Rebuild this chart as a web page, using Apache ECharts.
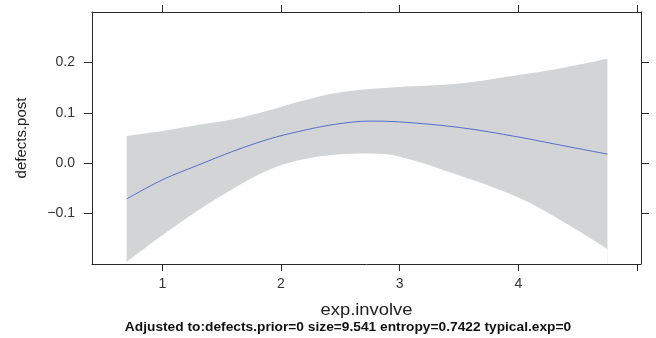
<!DOCTYPE html>
<html>
<head>
<meta charset="utf-8">
<script src="https://cdn.jsdelivr.net/npm/echarts@6/dist/echarts.min.js"></script>
<style>html,body{margin:0;padding:0;background:#fff}#c{width:656px;height:338px}</style>
</head>
<body>
<div id="c"></div>
<script>
const xValues = [0.70, 1.0, 1.3, 1.6, 1.9, 2.15, 2.45, 2.75, 3.0, 3.5, 4.0, 4.35, 4.75];
const fitValues = [-0.071, -0.033, -0.004, 0.024, 0.048, 0.063, 0.077, 0.0835, 0.082, 0.071, 0.052, 0.036, 0.018];
const upperValues = [0.054, 0.064, 0.076, 0.087, 0.105, 0.122, 0.139, 0.147, 0.151, 0.158, 0.175, 0.188, 0.207];
const lowerValues = [-0.196, -0.143, -0.094, -0.050, -0.013, 0.006, 0.017, 0.019, 0.013, -0.024, -0.068, -0.112, -0.170];
const xTicks = [1, 2, 3, 4, 5];
const xLabels = [1, 2, 3, 4];
const yTicks = [-0.1, 0.0, 0.1, 0.2];
const xTitle = 'exp.involve';
const yTitle = 'defects.post';
const subTitle = 'Adjusted to:defects.prior=0 size=9.541 entropy=0.7422 typical.exp=0';

const pair = ys => xValues.map((x, i) => [x, ys[i]]);
const font = '"Liberation Sans", Arial, Helvetica, sans-serif';
const lineCol = '#2a2a2a';

const chart = echarts.init(document.getElementById('c'), null, {renderer: 'canvas'});
const baseX = {
  type: 'value', min: 0.408, max: 5.033, z: 10,
  axisLine: {show: true, onZero: false, lineStyle: {color: lineCol, width: 1}},
  splitLine: {show: false}
};
const baseY = {
  type: 'value', min: -0.2, max: 0.3, z: 10,
  axisLine: {show: true, onZero: false, lineStyle: {color: lineCol, width: 1}},
  splitLine: {show: false}
};
chart.setOption({
  animation: false,
  backgroundColor: '#fff',
  grid: {left: 92, top: 12, right: 15, bottom: 74, containLabel: false},
  xAxis: [
    Object.assign({}, baseX, {
      position: 'bottom',
      axisTick: {show: true, inside: false, length: 7, customValues: xTicks, lineStyle: {color: lineCol}},
      axisLabel: {show: true, margin: 13, customValues: xLabels, fontFamily: font, fontSize: 14, color: '#333',
        formatter: v => String(v)}
    }),
    Object.assign({}, baseX, {
      position: 'top',
      axisTick: {show: true, inside: false, length: 7, customValues: xTicks, lineStyle: {color: lineCol}},
      axisLabel: {show: false}
    })
  ],
  yAxis: [
    Object.assign({}, baseY, {
      position: 'left',
      name: yTitle, nameLocation: 'middle', nameGap: 63, nameRotate: 90,
      nameTextStyle: {fontFamily: font, fontSize: 15, color: '#222'},
      axisTick: {show: true, inside: false, length: 8, customValues: yTicks, lineStyle: {color: lineCol}},
      axisLabel: {show: true, margin: 17, customValues: yTicks, fontFamily: font, fontSize: 14, color: '#333',
        formatter: v => (Math.abs(v) < 1e-9 ? 0 : v).toFixed(1).replace('-', '\u2212')}
    }),
    Object.assign({}, baseY, {
      position: 'right',
      axisTick: {show: true, inside: false, length: 8, customValues: yTicks, lineStyle: {color: lineCol}},
      axisLabel: {show: false}
    })
  ],
  series: [
    {
      name: 'upper', type: 'line', xAxisIndex: 0, yAxisIndex: 0,
      data: pair(upperValues), smooth: 0.35, symbol: 'none',
      lineStyle: {width: 0, color: '#d3d4d6'},
      areaStyle: {color: '#d3d4d6', opacity: 1, origin: 'start'},
      silent: true
    },
    {
      name: 'lower', type: 'line', xAxisIndex: 0, yAxisIndex: 0,
      data: pair(lowerValues), smooth: 0.35, symbol: 'none',
      lineStyle: {width: 0, color: '#ffffff'},
      areaStyle: {color: '#ffffff', opacity: 1, origin: 'start'},
      silent: true
    },
    {
      name: 'fit', type: 'line', xAxisIndex: 0, yAxisIndex: 0,
      data: pair(fitValues), smooth: 0.35, symbol: 'none',
      lineStyle: {width: 1, color: '#4f70cf'},
      silent: true
    }
  ],
  graphic: [
    {
      type: 'text', x: 366.5, y: 311, scaleX: 1.15,
      style: {text: xTitle, font: '16px ' + font, fill: '#222', textAlign: 'center', textVerticalAlign: 'middle'}
    },
    {
      type: 'text', x: 348, y: 327.5, scaleX: 1.1,
      style: {text: subTitle, font: 'bold 12.5px ' + font, fill: '#111', textAlign: 'center', textVerticalAlign: 'middle'}
    }
  ]
});
</script>
</body>
</html>
